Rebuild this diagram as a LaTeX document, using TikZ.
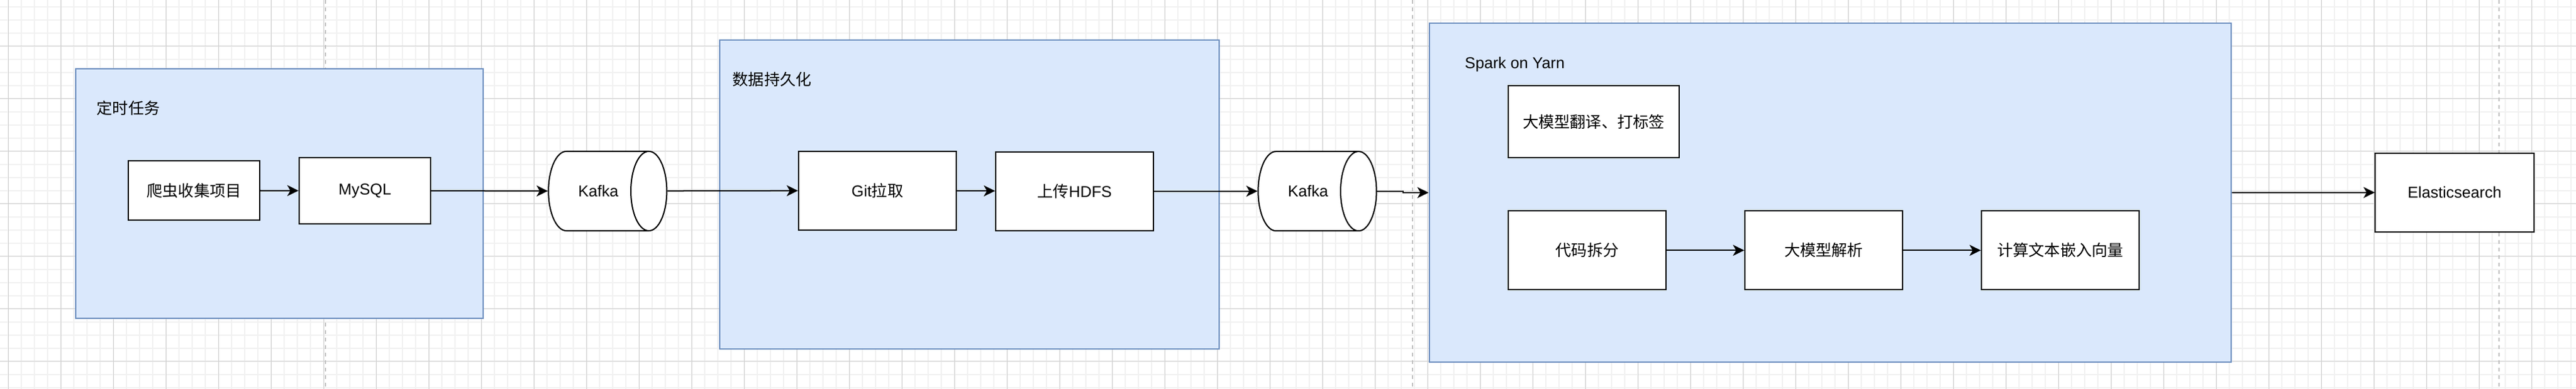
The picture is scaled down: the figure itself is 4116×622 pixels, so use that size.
\documentclass[tikz,border=0pt]{standalone}
\usepackage{fontspec}
\setmainfont{Liberation Sans}
\newfontfamily\cjk{Noto Sans CJK SC}
\usetikzlibrary{shapes.geometric,arrows.meta}
\definecolor{boxfill}{HTML}{DAE8FC}
\definecolor{boxline}{HTML}{6C8EBF}
\definecolor{gridminor}{HTML}{F1F1F1}
\definecolor{gridmajor}{HTML}{CFCFCF}
\definecolor{pageline}{HTML}{C0C0C0}
\begin{document}
\begin{tikzpicture}[x=0.01cm,y=-0.01cm,
    font=\fontsize{7.17pt}{8.6pt}\selectfont,
    group/.style={draw=boxline,fill=boxfill,line width=0.02cm,inner sep=0pt},
    proc/.style={draw,fill=white,line width=0.02cm,inner sep=0pt,minimum width=2.52cm,minimum height=1.26cm},
    queue/.style={cylinder,draw,fill=white,line width=0.02cm,inner sep=0pt,shape aspect=3.1,minimum height=1.89cm,minimum width=1.27cm},
    flow/.style={-{Stealth[length=0.18cm,width=0.175cm,inset=0.05cm]},line width=0.02cm}]
  \useasboundingbox (0,0) rectangle (4116,622);
  \fill[white] (0,0) rectangle (4116,622);
  \foreach \i in {0,...,195}
    \draw[gridminor,line width=0.02cm] ({13.3+21*\i},0) -- ++(0,622);
  \foreach \j in {0,...,29}
    \draw[gridminor,line width=0.02cm] (0,{11+21*\j}) -- ++(4116,0);
  \foreach \i in {0,...,48}
    \draw[gridmajor,line width=0.01cm] ({13.3+84*\i},0) -- ++(0,622);
  \foreach \j in {0,...,6}
    \draw[gridmajor,line width=0.01cm] (0,{74+84*\j}) -- ++(4116,0);
  \foreach \x in {520,2256.7,3993.4}
    \draw[pageline,line width=0.02cm,dash pattern=on 0.06cm off 0.06cm] (\x,0) -- ++(0,622);

  \node[group,minimum width=6.51cm,minimum height=3.99cm] (task) at (446.5,309.5) {};
  \node[group,minimum width=7.98cm,minimum height=4.94cm] (persist) at (1549,311) {};
  \node[group,minimum width=12.81cm,minimum height=5.42cm] (spark) at (2924.5,308) {};
  \node[anchor=west,inner sep=0pt] (tasklbl) at (154,173) {\cjk 定时任务};
  \node[anchor=west,inner sep=0pt] (persistlbl) at (1170,127) {\cjk 数据持久化};
  \node[anchor=west,inner sep=0pt] (sparklbl) at (2340,103) {Spark on Yarn};

  \node[proc,minimum width=2.1cm,minimum height=0.95cm] (crawl) at (310,304.6) {\cjk 爬虫收集项目};
  \node[proc,minimum width=2.1cm,minimum height=1.06cm] (mysql) at (583,305) {MySQL};
  \node[queue] (kafkaA) at (956,305.5) {Kafka};
  \node[proc] (git) at (1402,304.7) {Git{\cjk 拉取}};
  \node[proc] (hdfs) at (1717,305.7) {{\cjk 上传}HDFS};
  \node[queue] (kafkaB) at (2090,305.7) {Kafka};
  \node[proc,minimum width=2.73cm,minimum height=1.15cm] (tag) at (2546.5,194.6) {\cjk 大模型翻译、打标签};
  \node[proc] (split) at (2536,400.3) {\cjk 代码拆分};
  \node[proc] (parse) at (2914,400.3) {\cjk 大模型解析};
  \node[proc] (embed) at (3292,400.3) {\cjk 计算文本嵌入向量};
  \node[proc,minimum width=2.53cm] (es) at (3922,307.8) {Elasticsearch};

  \begin{scope}[flow]
    \draw (crawl) -- (mysql);
    \draw (mysql) -- (kafkaA);
    \draw (kafkaA) -- (git);
    \draw (git) -- (hdfs);
    \draw (hdfs) -- (kafkaB);
    \draw (kafkaB.east) -- ++(42,0) |- (spark.west);
    \draw (split) -- (parse);
    \draw (parse) -- (embed);
    \draw (spark) -- (es);
  \end{scope}
\end{tikzpicture}
\end{document}
